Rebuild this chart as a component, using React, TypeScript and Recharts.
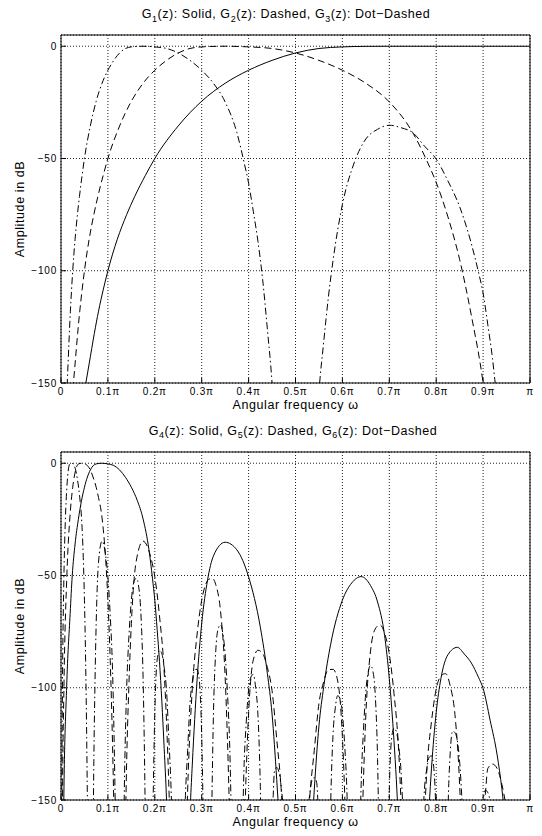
import React from "react";
import { LineChart, Line, XAxis, YAxis, CartesianGrid } from "recharts";

const FONT = '"Liberation Sans", Arial, Helvetica, sans-serif';

// x axis: angular frequency in units of pi, y axis: amplitude in dB
const freqTicks = [0, 0.1, 0.2, 0.3, 0.4, 0.5, 0.6, 0.7, 0.8, 0.9, 1];
const ampTicks = [-150, -100, -50, 0];
const ampDomain: [number, number] = [-150, 5];

// [frequency (x pi), amplitude (dB)]; nulls drop below the frame
const g1: [number, number][] = [
  [0.03, -182], [0.04, -166], [0.053, -150], [0.06, -141.5], [0.071, -128], [0.08, -118],
  [0.09, -108.5], [0.1, -100], [0.12, -86], [0.14, -75], [0.157, -67], [0.18, -57.5],
  [0.2, -50], [0.25, -35.5], [0.3, -24.5], [0.35, -16.5], [0.4, -10.7], [0.45, -6.3],
  [0.5, -3], [0.55, -1], [0.6, -0.3], [0.65, -0.05], [0.7, 0], [0.8, 0], [0.9, 0], [1, 0],
];

const g2: [number, number][] = [
  [0.015, -182], [0.02, -166], [0.0265, -150], [0.03, -141.5], [0.0355, -128], [0.04, -118],
  [0.045, -108.5], [0.05, -100], [0.06, -86], [0.07, -75], [0.0785, -67], [0.09, -57.5],
  [0.1, -50], [0.125, -35.5], [0.15, -24.5], [0.175, -16.5], [0.2, -10.7], [0.225, -6.3],
  [0.25, -3], [0.275, -1], [0.3, -0.3], [0.35, 0], [0.4, -0.3], [0.45, -1], [0.5, -3],
  [0.55, -6.3], [0.6, -10.7], [0.65, -16.5], [0.7, -24.8], [0.75, -38.5], [0.78, -51],
  [0.8, -60.7], [0.825, -76], [0.85, -95], [0.875, -120], [0.9, -150], [0.92, -186],
];

const g3: [number, number][] = [
  [0.007, -190], [0.01, -166], [0.0133, -150], [0.015, -141.5], [0.02, -118], [0.0225, -108.5],
  [0.025, -100], [0.03, -86], [0.035, -75], [0.0393, -67], [0.045, -57.5], [0.05, -50],
  [0.0625, -35.5], [0.075, -24.5], [0.0875, -16.5], [0.1, -10.7], [0.1125, -6.3], [0.125, -3],
  [0.1375, -1], [0.15, -0.3], [0.175, 0], [0.2, -0.3], [0.225, -1], [0.25, -3], [0.275, -6.3],
  [0.3, -10.7], [0.325, -16.5], [0.35, -24.8], [0.375, -38.5], [0.39, -51.4], [0.4, -61],
  [0.41, -73.5], [0.42, -87], [0.43, -104], [0.44, -126], [0.45, -150], [0.46, -188], [0.5, -320],
  [0.54, -190], [0.55, -154], [0.56, -132], [0.57, -112], [0.58, -95.5], [0.6, -70.5],
  [0.625, -52], [0.65, -41.3], [0.675, -37], [0.7, -35.2], [0.725, -36.3], [0.75, -38.5],
  [0.775, -44.5], [0.8, -50.3], [0.825, -60], [0.85, -71.5], [0.875, -88], [0.89, -100.5],
  [0.9, -110], [0.91, -124], [0.92, -139], [0.925, -148.5], [0.93, -157], [0.94, -179],
];

const g4: [number, number][] = [
  [0, -320], [0.006, -150], [0.012, -100], [0.0195, -67], [0.024, -50], [0.03, -36],
  [0.037, -25], [0.05, -10.7], [0.0625, -3], [0.075, -0.3], [0.0875, 0], [0.1, -0.3],
  [0.1125, -1], [0.125, -3], [0.1375, -6.3], [0.15, -10.7], [0.1625, -16.5], [0.175, -24.8],
  [0.1875, -38.5], [0.195, -51.2], [0.2, -61], [0.205, -74], [0.21, -88.3], [0.215, -106],
  [0.22, -127], [0.225, -150], [0.23, -186], [0.25, -320],
  [0.27, -192], [0.276, -151.6], [0.28, -134], [0.29, -97], [0.3, -71.4], [0.3125, -52],
  [0.325, -41.3], [0.35, -35.2], [0.375, -38.6], [0.4, -50.6], [0.425, -73], [0.44, -93.6],
  [0.45, -111.7], [0.46, -141], [0.465, -158], [0.5, -320],
  [0.53, -184], [0.54, -145.6], [0.55, -117], [0.56, -99.8], [0.575, -80.6], [0.6, -61],
  [0.62, -53.3], [0.64, -50.5], [0.66, -54.5], [0.675, -61.8], [0.69, -76.8], [0.7, -95.9],
  [0.71, -123.6], [0.715, -141], [0.72, -162], [0.75, -320],
  [0.78, -172], [0.79, -135.8], [0.8, -111], [0.81, -96], [0.825, -85.3], [0.845, -82],
  [0.86, -85], [0.875, -89], [0.89, -95.3], [0.9, -100.3], [0.915, -114.5], [0.93, -130],
  [0.94, -145], [0.95, -165], [0.97, -210], [1, -320],
];

const g5: [number, number][] = [
  [0, -320], [0.0033, -150], [0.00625, -100], [0.0125, -50], [0.019, -24], [0.025, -10.7],
  [0.03125, -3], [0.0375, -0.3], [0.045, 0], [0.055, -0.8], [0.0625, -3], [0.07, -7.2],
  [0.075, -10.7], [0.08, -15.3], [0.0875, -24.3], [0.095, -42], [0.1, -61], [0.105, -88],
  [0.11, -126], [0.113, -156], [0.125, -320],
  [0.135, -192], [0.14, -133], [0.145, -97.5], [0.15, -71.4], [0.16, -44.1], [0.175, -34.7],
  [0.19, -40.8], [0.2, -50.6], [0.21, -68], [0.22, -93], [0.23, -144], [0.235, -180], [0.25, -320],
  [0.26, -237], [0.27, -146], [0.28, -100.4], [0.29, -76.5], [0.3, -61], [0.308, -54.2],
  [0.316, -51.6], [0.323, -51.3], [0.33, -54.1], [0.34, -65.6], [0.35, -95.4], [0.355, -123.5],
  [0.36, -162], [0.375, -320],
  [0.39, -171], [0.4, -111.3], [0.41, -87.6], [0.42, -83.3], [0.43, -84.8], [0.44, -91],
  [0.45, -101.3], [0.46, -123], [0.47, -147], [0.475, -167], [0.5, -320],
  [0.52, -190], [0.53, -150], [0.54, -128], [0.55, -107], [0.56, -97.4], [0.57, -92],
  [0.58, -91.8], [0.59, -97], [0.6, -121.7], [0.61, -182], [0.625, -320],
  [0.64, -177], [0.65, -112], [0.66, -83.6], [0.67, -73.8], [0.68, -72], [0.69, -75.7],
  [0.7, -85], [0.71, -102.5], [0.72, -128], [0.73, -179], [0.75, -320],
  [0.77, -185], [0.78, -137], [0.79, -115], [0.8, -100.6], [0.81, -94.8], [0.82, -93.7],
  [0.83, -99.3], [0.84, -112], [0.85, -143.4], [0.855, -171], [0.875, -320],
  [0.89, -221], [0.9, -161], [0.905, -147], [0.91, -136], [0.92, -134], [0.93, -136],
  [0.94, -143], [0.95, -154], [0.96, -168], [1, -320],
];

const g6: [number, number][] = [
  [0, -320], [0.00165, -150], [0.003125, -100], [0.00625, -50], [0.0095, -24], [0.0125, -10.7],
  [0.0156, -3], [0.01875, -0.3], [0.0225, 0], [0.0275, -0.8], [0.03125, -3], [0.035, -7.2],
  [0.0375, -10.7], [0.04, -15.3], [0.04375, -24.3], [0.0475, -42], [0.05, -61], [0.0525, -88],
  [0.055, -126], [0.0565, -156], [0.0625, -320],
  [0.0675, -192], [0.07, -133], [0.0725, -97.5], [0.075, -71.4], [0.08, -44.1], [0.0875, -34.7],
  [0.095, -40.8], [0.1, -50.6], [0.105, -68], [0.11, -93], [0.115, -144], [0.1175, -180], [0.125, -320],
  [0.13, -237], [0.135, -146], [0.14, -100.4], [0.145, -76.5], [0.15, -61], [0.154, -54.2],
  [0.158, -51.6], [0.1615, -51.3], [0.165, -54.1], [0.17, -65.6], [0.175, -95.4], [0.1775, -123.5],
  [0.18, -162], [0.1875, -320],
  [0.195, -171], [0.2, -111.3], [0.205, -87.6], [0.21, -83.3], [0.215, -84.8], [0.22, -91],
  [0.225, -101.3], [0.23, -123], [0.235, -147], [0.2375, -167], [0.25, -320],
  [0.26, -190], [0.265, -150], [0.27, -128], [0.275, -107], [0.28, -97.4], [0.285, -92],
  [0.29, -91.8], [0.295, -97], [0.3, -121.7], [0.305, -182], [0.3125, -320],
  [0.32, -177], [0.325, -112], [0.33, -83.6], [0.335, -73.8], [0.34, -72], [0.345, -75.7],
  [0.35, -85], [0.355, -102.5], [0.36, -128], [0.365, -179], [0.375, -320],
  [0.385, -185], [0.39, -137], [0.395, -115.2], [0.4, -101], [0.405, -95.2], [0.41, -94.1],
  [0.415, -99.8], [0.42, -112.5], [0.425, -144], [0.4275, -171.6], [0.4375, -320],
  [0.445, -222], [0.45, -162], [0.4525, -148], [0.455, -137.3], [0.46, -135.5], [0.465, -137.8],
  [0.47, -145], [0.475, -156.5], [0.48, -170], [0.5, -320],
  [0.52, -172], [0.525, -159], [0.53, -148], [0.535, -141.4], [0.54, -140], [0.545, -142],
  [0.55, -167.5], [0.555, -227], [0.5625, -320],
  [0.5725, -179], [0.575, -152], [0.58, -121], [0.585, -108.7], [0.59, -103.5], [0.595, -105],
  [0.6, -111.3], [0.605, -126], [0.61, -148.6], [0.615, -197], [0.625, -320],
  [0.635, -194], [0.64, -143], [0.645, -118.5], [0.65, -101.5], [0.655, -93], [0.66, -90],
  [0.665, -92.6], [0.67, -103], [0.675, -132], [0.68, -198], [0.6875, -320],
  [0.695, -205], [0.7, -145.7], [0.705, -122.3], [0.71, -118], [0.715, -119.5], [0.72, -126],
  [0.725, -137], [0.73, -159], [0.735, -182], [0.75, -320],
  [0.765, -188], [0.77, -165.5], [0.775, -145], [0.78, -136], [0.785, -131], [0.79, -130.3],
  [0.795, -136], [0.8, -161], [0.805, -223], [0.8125, -320],
  [0.8225, -183], [0.825, -156], [0.83, -128.6], [0.835, -119.3], [0.84, -120], [0.845, -123.5],
  [0.85, -133], [0.855, -150.5], [0.86, -176], [0.875, -320],
  [0.895, -165], [0.9, -150.6], [0.905, -145.6], [0.91, -146.7], [0.915, -151], [0.92, -164],
  [0.9375, -320], [1, -320],
];

const SOLID = undefined;
const DASHED = "7 4";
const DOT_DASHED = "7 3 1.5 3";

type Series = { name: string; points: [number, number][]; dash?: string };

const topSeries: Series[] = [
  { name: "G1", points: g1, dash: SOLID },
  { name: "G2", points: g2, dash: DASHED },
  { name: "G3", points: g3, dash: DOT_DASHED },
];

const bottomSeries: Series[] = [
  { name: "G4", points: g4, dash: SOLID },
  { name: "G5", points: g5, dash: DASHED },
  { name: "G6", points: g6, dash: DOT_DASHED },
];

const toRows = (pts: [number, number][]) => pts.map(([f, db]) => ({ f, db }));

const fmtFreq = (v: number) => (v === 0 ? "0" : v === 1 ? "π" : `${v.toFixed(1)}π`);
const fmtAmp = (v: number) => (v < 0 ? `\u2212${-v}` : `${v}`);

function FreqTick(props: any) {
  const { x, y, payload } = props;
  return (
    <text x={x} y={y} dy="0.71em" textAnchor="middle" fontSize={10} fontFamily={FONT} fill="#000" style={{ letterSpacing: 0.8 }}>
      {fmtFreq(payload.value)}
    </text>
  );
}

function AmpTick(props: any) {
  const { x, y, payload } = props;
  return (
    <text x={x} y={y} dy="0.355em" textAnchor="end" fontSize={10} fontFamily={FONT} fill="#000" style={{ letterSpacing: 0.8 }}>
      {fmtAmp(payload.value)}
    </text>
  );
}

function Sub({ children }: { children: React.ReactNode }) {
  return <span style={{ fontSize: 9, position: "relative", top: 3.5 }}>{children}</span>;
}

const labelText: React.CSSProperties = { fontSize: 12.5, letterSpacing: 0.6, whiteSpace: "nowrap", lineHeight: "14px" };

function Panel({
  top,
  title,
  titleCenter,
  series,
}: {
  top: number;
  title: React.ReactNode;
  titleCenter: number;
  series: Series[];
}) {
  return (
    <div style={{ position: "absolute", left: 0, top, width: 542, height: 418 }}>
      <div style={{ ...labelText, letterSpacing: 0.55, position: "absolute", left: titleCenter, top: 7, transform: "translateX(-50%)" }}>
        {title}
      </div>
      <div style={{ position: "absolute", left: 0, top: 0 }}>
        <LineChart width={542} height={400} margin={{ top: 34, right: 11, bottom: 0, left: 0 }}>
          <CartesianGrid stroke="#222" strokeDasharray="1 2" />
          <XAxis
            dataKey="f"
            type="number"
            domain={[0, 1]}
            ticks={freqTicks}
            interval={0}
            tickSize={-5}
            tickMargin={10}
            height={17}
            stroke="#000"
            tick={<FreqTick />}
            allowDataOverflow
          />
          <XAxis
            xAxisId="top"
            orientation="top"
            type="number"
            domain={[0, 1]}
            ticks={freqTicks}
            interval={0}
            tick={false}
            tickSize={-5}
            height={1}
            stroke="#000"
          />
          <YAxis
            type="number"
            domain={ampDomain}
            ticks={ampTicks}
            interval={0}
            tickSize={-5}
            tickMargin={9}
            width={61}
            stroke="#000"
            tick={<AmpTick />}
            allowDataOverflow
          />
          <YAxis
            yAxisId="right"
            orientation="right"
            type="number"
            domain={ampDomain}
            ticks={ampTicks}
            interval={0}
            tick={false}
            tickSize={-5}
            width={1}
            stroke="#000"
          />
          {series.map((s) => (
            <Line
              key={s.name}
              data={toRows(s.points)}
              dataKey="db"
              type="monotone"
              stroke="#000"
              strokeWidth={1}
              strokeDasharray={s.dash}
              dot={false}
              activeDot={false}
              isAnimationActive={false}
            />
          ))}
        </LineChart>
      </div>
      <div
        style={{
          ...labelText,
          position: "absolute",
          left: 20,
          top: 209,
          transform: "translate(-50%, -50%) rotate(-90deg)",
        }}
      >
        Amplitude in dB
      </div>
      <div style={{ ...labelText, position: "absolute", left: 295.5, top: 398, transform: "translateX(-50%)" }}>
        Angular frequency ω
      </div>
    </div>
  );
}

export default function App() {
  return (
    <div
      style={{
        position: "absolute",
        left: 0,
        top: 0,
        width: 542,
        height: 836,
        background: "#fff",
        fontFamily: FONT,
        color: "#000",
        overflow: "hidden",
      }}
    >
      <Panel
        top={0}
        titleCenter={286}
        series={topSeries}
        title={
          <>
            G<Sub>1</Sub>(z): Solid, G<Sub>2</Sub>(z): Dashed, G<Sub>3</Sub>(z): Dot−Dashed
          </>
        }
      />
      <Panel
        top={416.5}
        titleCenter={293}
        series={bottomSeries}
        title={
          <>
            G<Sub>4</Sub>(z): Solid, G<Sub>5</Sub>(z): Dashed, G<Sub>6</Sub>(z): Dot−Dashed
          </>
        }
      />
    </div>
  );
}
